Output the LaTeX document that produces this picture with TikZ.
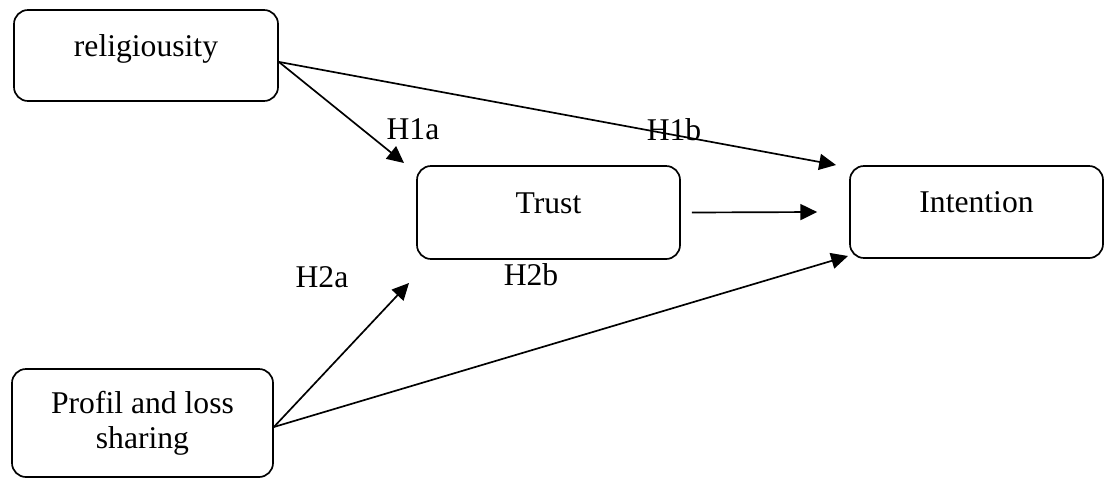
\documentclass[tikz,border=0pt]{standalone}
\usepackage{fontspec}
\setmainfont{Liberation Serif}
\usetikzlibrary{arrows.meta}

\begin{document}
\begin{tikzpicture}[every node/.style={font=\fontsize{22.5}{25}\selectfont},
  hbox/.style={draw,line width=1.2pt,rounded corners=0.35cm,inner sep=0pt},
  oneline/.style={text height=15pt,text depth=14pt},
  link/.style={line width=1.2pt,-{Triangle[length=0.42cm,width=0.4cm]}}]
\useasboundingbox (0,0) rectangle (27.625,-11.95);
\node[hbox,oneline,minimum width=6.6cm,minimum height=2.275cm] (rel) at (3.65,-1.3875) {religiousity};
\node[hbox,oneline,minimum width=6.575cm,minimum height=2.325cm] (trust) at (13.7125,-5.3125) {Trust};
\node[hbox,oneline,minimum width=6.325cm,minimum height=2.3cm] (intent) at (24.4125,-5.3) {Intention};
\node[hbox,align=center,minimum width=6.525cm,minimum height=2.7cm] (pls) at (3.5625,-10.575) {Profil and loss\\sharing};
% free ends of the arrows
\coordinate (relout) at ([yshift=-1.6mm]rel.east);
\coordinate (plsout) at ([yshift=-1mm]pls.east);
\coordinate (trustin) at (10.1,-4.075);
\coordinate (trustin2) at (10.225,-7.075);
\coordinate (intin1) at (20.9,-4.125);
\coordinate (intin3) at (21.2,-6.4);
\coordinate (trustout) at ([xshift=2.75mm]trust.east);
\coordinate (intin2) at ([xshift=-8mm]intent.west);
\draw[link] (relout) -- (trustin);
\draw[link] (relout) -- (intin1);
\draw[link] (trustout) -- (intin2);
\draw[link] (plsout) -- (trustin2);
\draw[link] (plsout) -- (intin3);
\node (h1a) at (10.325,-3.225) {H1a};
\node (h1b) at (16.85,-3.25) {H1b};
\node (h2a) at (8.05,-6.925) {H2a};
\node (h2b) at (13.275,-6.875) {H2b};
\end{tikzpicture}
\end{document}
